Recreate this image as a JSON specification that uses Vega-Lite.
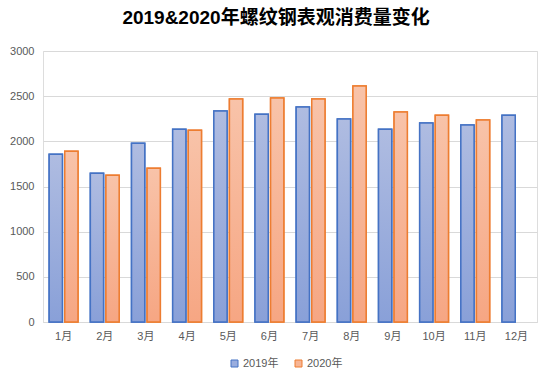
{
  "$schema": "https://vega.github.io/schema/vega-lite/v6.json",
  "autosize": "none",
  "width": 494,
  "height": 271,
  "padding": {"left": 43, "top": 51, "right": 15, "bottom": 60},
  "background": "#ffffff",
  "title": {
    "text": "2019&2020年螺纹钢表观消费量变化",
    "font": "Liberation Sans, Noto Sans CJK SC",
    "fontSize": 19,
    "fontWeight": "bold",
    "color": "#000000",
    "anchor": "middle",
    "dx": -14,
    "offset": 17
  },
  "data": {
    "values": [
      {"month": "1月", "series": "2019年", "value": 1858},
      {"month": "1月", "series": "2020年", "value": 1891},
      {"month": "2月", "series": "2019年", "value": 1648},
      {"month": "2月", "series": "2020年", "value": 1625},
      {"month": "3月", "series": "2019年", "value": 1980},
      {"month": "3月", "series": "2020年", "value": 1703},
      {"month": "4月", "series": "2019年", "value": 2135},
      {"month": "4月", "series": "2020年", "value": 2124},
      {"month": "5月", "series": "2019年", "value": 2335},
      {"month": "5月", "series": "2020年", "value": 2468},
      {"month": "6月", "series": "2019年", "value": 2301},
      {"month": "6月", "series": "2020年", "value": 2479},
      {"month": "7月", "series": "2019年", "value": 2379},
      {"month": "7月", "series": "2020年", "value": 2468},
      {"month": "8月", "series": "2019年", "value": 2246},
      {"month": "8月", "series": "2020年", "value": 2612},
      {"month": "9月", "series": "2019年", "value": 2135},
      {"month": "9月", "series": "2020年", "value": 2324},
      {"month": "10月", "series": "2019年", "value": 2202},
      {"month": "10月", "series": "2020年", "value": 2290},
      {"month": "11月", "series": "2019年", "value": 2180},
      {"month": "11月", "series": "2020年", "value": 2235},
      {"month": "12月", "series": "2019年", "value": 2290}
    ]
  },
  "encoding": {
    "x": {
      "field": "month",
      "type": "nominal",
      "sort": null,
      "scale": {"paddingInner": 0.3, "paddingOuter": 0.15},
      "axis": {
        "title": null,
        "labelAngle": 0,
        "labelFont": "Liberation Sans, Noto Sans CJK SC",
        "labelFontSize": 11,
        "labelColor": "#595959",
        "labelPadding": 8,
        "ticks": false,
        "domainColor": "#d9d9d9",
        "domainWidth": 1
      }
    },
    "xOffset": {
      "field": "series",
      "type": "nominal",
      "scale": {"domain": ["2019年", "2020年"], "paddingInner": 0.15, "paddingOuter": 0}
    },
    "y": {
      "field": "value",
      "type": "quantitative",
      "scale": {"domain": [0, 3000], "nice": false},
      "axis": {
        "title": null,
        "format": "d",
        "values": [0, 500, 1000, 1500, 2000, 2500, 3000],
        "labelFont": "Liberation Sans, Noto Sans CJK SC",
        "labelFontSize": 11,
        "labelColor": "#595959",
        "labelPadding": 9,
        "ticks": false,
        "domain": false,
        "gridColor": "#d9d9d9",
        "gridWidth": 1
      }
    }
  },
  "layer": [
    {
      "mark": {"type": "bar", "strokeWidth": 1.5},
      "encoding": {
        "color": {
          "field": "series",
          "type": "nominal",
          "scale": {"domain": ["2019年", "2020年"], "range": ["#9aadde", "#f7b595"]},
          "legend": {
            "title": null,
            "orient": "none",
            "legendX": 186,
            "legendY": 307,
            "direction": "horizontal",
            "symbolType": "square",
            "symbolSize": 49,
            "symbolStrokeWidth": 1,
            "labelFont": "Liberation Sans, Noto Sans CJK SC",
            "labelFontSize": 11,
            "labelColor": "#595959",
            "labelOffset": 3,
            "columnPadding": 14
          }
        },
        "stroke": {
          "field": "series",
          "type": "nominal",
          "scale": {"domain": ["2019年", "2020年"], "range": ["#4472c4", "#ed7d31"]}
        }
      }
    },
    {
      "transform": [{"filter": "datum.series == '2019年'"}],
      "mark": {
        "type": "bar",
        "strokeWidth": 1.5,
        "stroke": "#4472c4",
        "color": {"gradient": "linear", "x1": 0, "y1": 0, "x2": 0, "y2": 1, "stops": [{"offset": 0, "color": "#afbce1"}, {"offset": 1, "color": "#89a0d8"}]}
      }
    },
    {
      "transform": [{"filter": "datum.series == '2020年'"}],
      "mark": {
        "type": "bar",
        "strokeWidth": 1.5,
        "stroke": "#ed7d31",
        "color": {"gradient": "linear", "x1": 0, "y1": 0, "x2": 0, "y2": 1, "stops": [{"offset": 0, "color": "#f8c3a9"}, {"offset": 1, "color": "#f6a683"}]}
      }
    }
  ]
}
